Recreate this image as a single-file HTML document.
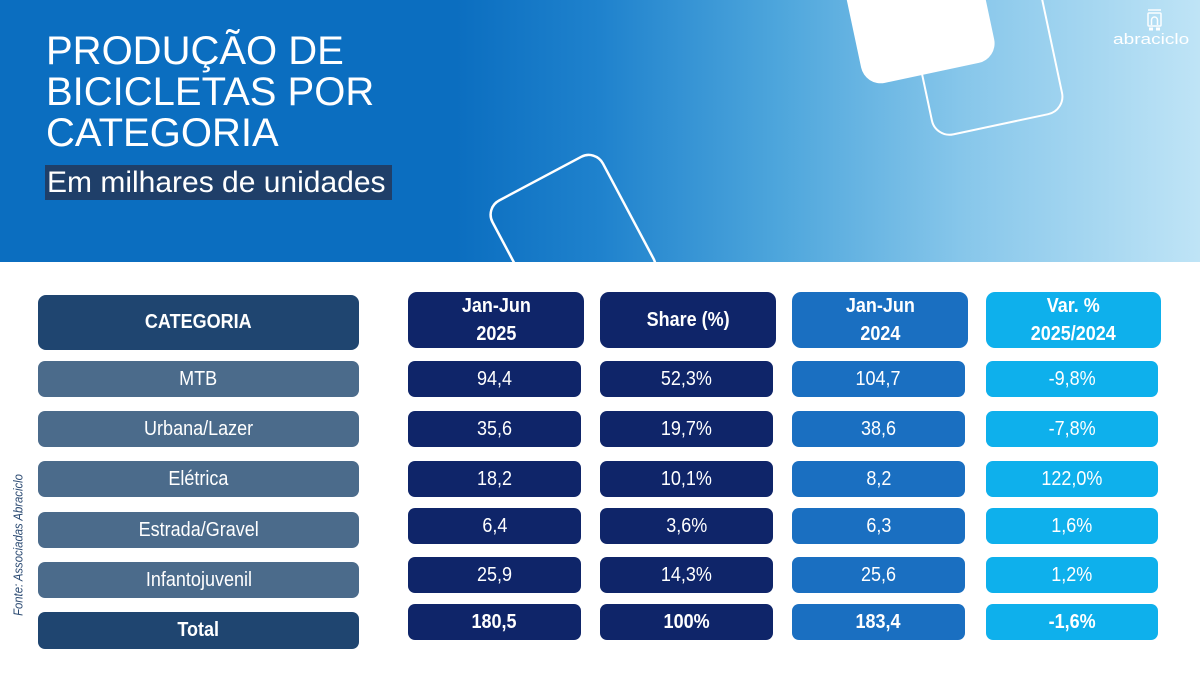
<!DOCTYPE html>
<html>
<head>
<meta charset="utf-8">
<style>
  html,body{margin:0;padding:0;}
  body{width:1200px;height:675px;position:relative;overflow:hidden;background:#ffffff;font-family:"Liberation Sans",Arial,sans-serif;}
  .hdr{position:absolute;left:0;top:0;width:1200px;height:262px;
    background:linear-gradient(to right,#0b6ec0 0%,#0b6ec0 38%,#1f82cd 50%,#4ea6dc 65%,#86c6ea 80%,#bfe4f6 100%);overflow:hidden;}
  .title{position:absolute;left:46px;top:31px;color:#fff;font-size:40px;line-height:41px;font-weight:normal;letter-spacing:0px;}
  .sub{position:absolute;left:45px;top:165px;width:347px;height:35px;background:#1f3f69;}
  .sub span{position:absolute;left:2px;top:0px;color:#fff;font-size:30px;line-height:35px;white-space:nowrap;}
  .box{position:absolute;display:flex;align-items:center;justify-content:center;color:#fff;font-size:20px;text-align:center;}
  .box span{display:inline-block;transform:scaleX(0.9);white-space:nowrap;}
  .b{font-weight:bold;}
  .hd{line-height:28px;}
  .cat{background:#4b6b8b;border-radius:7px;left:38px;width:321px;height:36px;}
  .catd{background:#1f4570;}
  .c2{background:#0f2569;border-radius:7px;left:408px;width:173px;height:36px;}
  .c3{background:#0f2569;border-radius:7px;left:600px;width:173px;height:36px;}
  .c4{background:#1a6fc1;border-radius:7px;left:792px;width:173px;height:36px;}
  .c5{background:#0eb0ec;border-radius:7px;left:986px;width:172px;height:36px;}
  .h{top:292px;height:56px;border-radius:9px;}
  .fonte{position:absolute;left:18px;top:545px;width:0;height:0;}
  .fonte span{position:absolute;left:0;top:0;transform:translate(-50%,-50%) rotate(-90deg) scaleX(0.87);white-space:nowrap;font-style:italic;font-size:13px;color:#2b4a72;}
  .logo{position:absolute;left:1113px;top:32px;color:#fff;font-size:15px;line-height:16px;}
  .logo span{display:inline-block;transform:scaleX(1.27);transform-origin:0 50%;}
</style>
</head>
<body>
<div class="hdr">
  <svg width="1200" height="262" style="position:absolute;left:0;top:0">
    <rect x="0" y="0" width="125" height="140" rx="16" ry="16" fill="none" stroke="#ffffff" stroke-width="2.5" transform="translate(485,208) rotate(-28)"/>
    <rect x="0" y="0" width="133" height="133" rx="18" ry="18" fill="none" stroke="#ffffff" stroke-width="2" transform="translate(908,8) rotate(-12)"/>
    <rect x="0" y="0" width="136" height="136" rx="20" ry="20" fill="#ffffff" transform="translate(837,-46) rotate(-12)"/>
    <g fill="none" stroke="#ffffff" stroke-width="1.5" opacity="0.95">
      <line x1="1148" y1="10" x2="1161" y2="10"/>
      <rect x="1148" y="13" width="13" height="13" rx="1"/>
      <path d="M1151.5 25 V20 a3 3 0 0 1 6 0 V25"/>
    </g>
    <g fill="#ffffff">
      <rect x="1149" y="27.5" width="4" height="3"/>
      <rect x="1156" y="27.5" width="4" height="3"/>
    </g>
  </svg>
  <div class="title">PRODUÇÃO DE<br>BICICLETAS POR<br>CATEGORIA</div>
  <div class="sub"><span>Em milhares de unidades</span></div>
  <div class="logo"><span>abraciclo</span></div>
</div>

<div class="fonte"><span>Fonte: Associadas Abraciclo</span></div>

<!-- Headers -->
<div class="box cat catd b" style="top:295px;height:55px;border-radius:8px;"><span>CATEGORIA</span></div>
<div class="box c2 h b hd" style="width:176px;"><span>Jan-Jun<br>2025</span></div>
<div class="box c3 h b" style="width:176px;"><span>Share (%)</span></div>
<div class="box c4 h b hd" style="width:176px;"><span>Jan-Jun<br>2024</span></div>
<div class="box c5 h b hd" style="width:175px;"><span>Var. %<br>2025/2024</span></div>

<!-- Category rows -->
<div class="box cat" style="top:361px;"><span>MTB</span></div>
<div class="box cat" style="top:411px;"><span>Urbana/Lazer</span></div>
<div class="box cat" style="top:461px;"><span>Elétrica</span></div>
<div class="box cat" style="top:512px;"><span>Estrada/Gravel</span></div>
<div class="box cat" style="top:562px;"><span>Infantojuvenil</span></div>
<div class="box cat catd b" style="top:612px;height:37px;"><span>Total</span></div>

<!-- Col 2 -->
<div class="box c2" style="top:361px;"><span>94,4</span></div>
<div class="box c2" style="top:411px;"><span>35,6</span></div>
<div class="box c2" style="top:461px;"><span>18,2</span></div>
<div class="box c2" style="top:508px;"><span>6,4</span></div>
<div class="box c2" style="top:557px;"><span>25,9</span></div>
<div class="box c2 b" style="top:604px;"><span>180,5</span></div>

<!-- Col 3 -->
<div class="box c3" style="top:361px;"><span>52,3%</span></div>
<div class="box c3" style="top:411px;"><span>19,7%</span></div>
<div class="box c3" style="top:461px;"><span>10,1%</span></div>
<div class="box c3" style="top:508px;"><span>3,6%</span></div>
<div class="box c3" style="top:557px;"><span>14,3%</span></div>
<div class="box c3 b" style="top:604px;"><span>100%</span></div>

<!-- Col 4 -->
<div class="box c4" style="top:361px;"><span>104,7</span></div>
<div class="box c4" style="top:411px;"><span>38,6</span></div>
<div class="box c4" style="top:461px;"><span>8,2</span></div>
<div class="box c4" style="top:508px;"><span>6,3</span></div>
<div class="box c4" style="top:557px;"><span>25,6</span></div>
<div class="box c4 b" style="top:604px;"><span>183,4</span></div>

<!-- Col 5 -->
<div class="box c5" style="top:361px;"><span>-9,8%</span></div>
<div class="box c5" style="top:411px;"><span>-7,8%</span></div>
<div class="box c5" style="top:461px;"><span>122,0%</span></div>
<div class="box c5" style="top:508px;"><span>1,6%</span></div>
<div class="box c5" style="top:557px;"><span>1,2%</span></div>
<div class="box c5 b" style="top:604px;"><span>-1,6%</span></div>
</body>
</html>
